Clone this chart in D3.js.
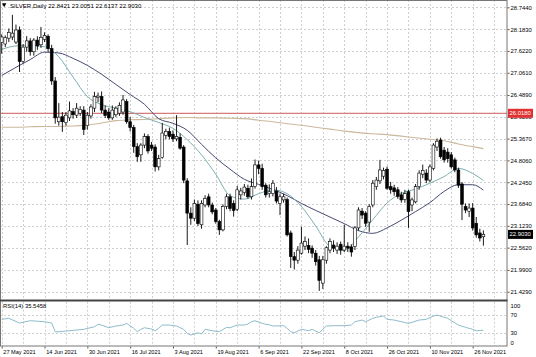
<!DOCTYPE html>
<html><head><meta charset="utf-8">
<script src="https://cdn.jsdelivr.net/npm/d3@7"></script>
<style>
html,body{margin:0;padding:0;background:#fff;}
svg{display:block;font-family:"Liberation Sans",Arial,sans-serif;}
</style>
</head><body>
<svg id="chart" width="536" height="357"></svg>
<script>
// ---------- data ----------
const symbolTitle = "SILVER,Daily";
const lastOHLC = [22.8421, 23.0051, 22.6137, 22.9030];

const opens  = [27.84,27.80,27.95,27.98,27.85,28.16,27.35,27.72,27.88,27.60,27.90,27.78,27.92,28.00,27.68,26.85,25.80,25.93,25.78,25.90,
  26.06,25.97,26.02,26.10,25.70,25.95,26.15,26.42,26.45,26.10,26.05,25.90,25.98,26.02,26.05,26.32,25.80,25.65,25.16,24.95,
  25.20,25.42,25.20,25.15,24.64,24.88,25.45,25.55,25.48,25.36,25.40,25.15,24.28,23.45,23.32,23.68,23.15,23.66,23.87,23.66,
  23.53,23.23,23.02,23.62,23.87,23.70,23.55,23.92,23.98,24.09,23.87,24.13,24.69,24.60,24.17,23.95,23.95,24.02,23.70,23.79,
  23.80,22.94,22.33,22.24,22.42,22.60,22.62,22.55,22.42,22.25,21.65,22.24,22.50,22.63,22.50,22.65,22.50,22.60,22.58,22.59,
  23.07,23.50,23.45,23.22,23.66,24.13,24.28,24.40,24.58,24.13,24.10,24.05,23.92,23.80,24.00,23.66,23.74,24.13,24.45,24.48,
  24.30,24.60,25.15,25.33,25.07,25.02,24.95,24.82,24.56,24.20,23.62,23.50,23.58,23.19,22.94,22.8421];
const highs  = [28.05,28.02,28.20,28.55,28.30,28.25,27.80,28.00,27.95,27.95,28.00,28.24,28.10,28.05,27.78,26.95,26.28,26.05,26.05,26.32,
  26.15,26.28,26.20,26.20,26.05,26.25,26.57,26.55,26.58,26.22,26.15,26.22,26.20,26.30,26.49,26.38,25.92,25.72,25.25,25.25,
  25.50,25.48,25.28,25.22,24.95,25.77,25.62,25.65,25.58,25.97,25.50,25.20,24.35,23.60,23.80,23.78,23.78,23.91,23.95,23.72,
  23.58,23.28,23.68,23.95,23.95,23.78,24.15,24.10,24.20,24.18,24.34,24.83,24.80,24.72,24.22,24.19,24.30,24.12,23.95,23.95,
  23.85,23.00,22.45,22.60,23.10,22.85,22.80,22.62,22.50,22.35,22.35,22.60,22.80,22.75,22.70,22.72,23.15,22.70,22.65,23.12,
  23.60,23.58,23.50,23.68,24.30,24.38,24.82,24.62,24.65,24.25,24.18,24.12,24.00,24.05,24.05,23.85,24.20,24.55,24.70,24.58,
  24.70,25.25,25.37,25.39,25.15,25.12,25.02,24.88,24.62,24.25,23.70,23.70,23.71,23.35,23.05,23.0051];
const lows   = [27.55,27.72,27.85,27.90,27.80,27.08,27.30,27.60,27.50,27.50,27.65,27.70,27.85,27.60,26.75,25.75,25.70,25.54,25.70,25.82,
  25.88,25.90,25.95,25.46,25.60,25.88,26.05,26.30,26.02,25.90,25.85,25.85,25.92,25.95,25.98,25.75,25.55,25.00,24.77,24.77,
  25.12,24.98,25.05,24.52,24.55,24.85,25.35,25.35,25.28,25.30,25.08,24.22,22.63,23.15,23.25,23.12,23.05,23.60,23.60,23.42,
  23.18,22.89,22.98,23.55,23.50,23.36,23.50,23.80,23.90,23.82,23.80,24.08,24.45,24.05,23.85,23.85,23.88,23.70,23.40,23.72,
  22.85,22.04,22.00,22.15,22.38,22.50,22.42,22.30,22.10,21.45,21.50,22.15,22.42,22.45,22.40,22.38,22.45,22.45,22.33,22.50,
  23.00,23.30,23.10,22.97,23.60,24.05,24.20,24.32,24.05,23.95,23.90,23.82,23.72,23.72,23.07,23.50,23.70,24.05,24.35,24.22,
  24.25,24.55,25.05,24.85,24.75,24.75,24.60,24.50,24.10,23.27,23.45,23.35,23.00,22.82,22.72,22.6137];
const closes = [27.98,27.97,28.10,28.08,28.16,27.35,27.72,27.88,27.60,27.90,27.75,27.97,28.02,27.68,26.85,25.90,25.92,25.80,25.97,26.08,
  25.98,26.15,26.12,25.60,25.97,26.18,26.45,26.46,26.10,25.96,25.90,26.10,26.15,26.22,26.36,25.80,25.65,25.16,24.90,25.20,
  25.42,25.05,25.12,24.64,24.85,25.51,25.55,25.42,25.36,25.42,25.12,24.30,23.45,23.32,23.70,23.18,23.70,23.83,23.66,23.48,
  23.23,23.02,23.62,23.87,23.57,23.52,24.05,24.02,24.12,23.87,24.13,24.69,24.60,24.13,23.92,24.00,24.22,23.76,23.87,23.87,
  22.89,22.33,22.24,22.50,22.68,22.72,22.52,22.42,22.20,21.72,22.25,22.56,22.72,22.55,22.60,22.50,22.60,22.55,22.45,23.07,
  23.53,23.40,23.19,23.62,24.22,24.30,24.56,24.55,24.09,24.05,24.00,23.88,23.79,23.95,23.49,23.79,24.13,24.48,24.55,24.30,
  24.64,25.20,25.30,24.90,24.82,24.85,24.64,24.56,24.17,23.68,23.53,23.58,23.07,22.89,22.81,22.9030];

// moving averages sampled every 4 bars
const maBars = [0,4,8,12,16,20,24,28,32,36,40,44,48,52,56,60,64,68,72,76,80,84,88,92,96,100,104,108,112,116,120,124,128,132,135];
const fastMa = [27.66,27.75,27.76,27.73,27.47,26.95,26.45,26.24,26.15,26.06,25.91,25.78,25.63,25.34,24.95,24.45,23.90,23.81,23.95,24.05,
  23.95,23.62,23.12,22.59,22.49,22.84,23.28,23.71,23.96,24.07,24.22,24.39,24.60,24.47,24.29];
const slowMa = [26.99,27.20,27.40,27.59,27.57,27.43,27.25,27.02,26.76,26.50,26.25,25.88,25.76,25.58,25.22,24.87,24.58,24.32,24.19,24.06,
  23.90,23.70,23.52,23.35,23.18,23.00,22.93,23.07,23.27,23.49,23.72,24.01,24.18,24.18,24.04];
const longMa = [25.66,25.66,25.67,25.68,25.68,25.69,25.72,25.77,25.83,25.85,25.86,25.88,25.90,25.91,25.90,25.90,25.89,25.88,25.84,25.80,
  25.75,25.71,25.66,25.61,25.56,25.52,25.49,25.47,25.43,25.39,25.35,25.31,25.23,25.16,25.11];

// RSI(14)
const rsiBars = [0,2,5,8,12,14,15,16,18,21,23,26,27,28,30,32,34,35,37,38,39,40,42,43,44,45,47,49,51,52,53,55,56,57,59,61,63,64,66,68,
  69,70,71,73,74,75,76,79,80,81,82,83,84,86,87,88,89,90,91,93,96,98,99,101,102,104,105,107,108,110,112,114,115,117,119,121,122,124,125,126,
  128,130,132,133,135];
const rsiValues = [60.2,62.5,51.9,57.1,54.8,51.9,32.2,32.2,33.8,36.0,37.6,43.5,48.9,47.3,41.2,45.1,47.3,51.2,39.9,32.2,
  37.6,41.2,38.3,34.5,39.9,47.3,47.3,45.1,37.6,28.6,24.7,29.9,27.0,37.6,34.5,32.2,42.1,41.2,47.3,47.3,
  49.6,54.8,57.1,51.2,49.0,48.0,45.1,45.8,39.9,32.2,29.9,33.8,37.6,34.5,37.6,33.8,29.9,37.6,45.1,45.8,
  45.8,47.3,54.8,58.6,54.8,62.5,64.7,67.7,60.2,58.6,54.8,51.2,53.4,58.6,60.2,67.7,69.9,64.7,62.5,57.1,
  47.3,42.1,37.6,34.5,35.5458];
const rsiLast = "35.5458";

const priceTicks = ["28.7440","28.1830","27.6220","27.0610","26.4890","25.9280","25.3670","24.8060","24.2450","23.6840","23.1230","22.5620","21.9900","21.4290"];
const rsiTicks = [100,70,30,0];
const rsiLevels = [70,30];
const dateLabels = ["27 May 2021","14 Jun 2021","30 Jun 2021","16 Jul 2021","3 Aug 2021","19 Aug 2021","6 Sep 2021","22 Sep 2021","8 Oct 2021","26 Oct 2021","10 Nov 2021","26 Nov 2021"];
const dateLabelBars = [0,12,24,36,48,60,72,84,96,108,120,132];
const hLineLevel = 26.0180;

// ---------- layout ----------
const W = 536, H = 357;
const plotRight = 507;
const mainTop = 0, mainBottom = 300;
const rsiTop = 301.7, rsiBottom = 346;

const svg = d3.select("#chart");
svg.append("rect").attr("width", W).attr("height", H).attr("fill", "#fff");

const x = d3.scaleLinear().domain([0, 135]).range([1.7, 483.4]);
const y = d3.scaleLinear().domain([21.2157, 28.9318]).range([mainBottom, mainTop]);
const yR = d3.scaleLinear().domain([0, 100]).range([rsiBottom, rsiTop]);

const fontSize = 5.9;
const dateFont = 5.6;
const titleFont = 6.1;
const gridColor = "#cfcfcf";

// clip paths
const defs = svg.append("defs");
defs.append("clipPath").attr("id", "clipMain").append("rect")
  .attr("x", 0).attr("y", mainTop).attr("width", plotRight).attr("height", mainBottom - mainTop);
defs.append("clipPath").attr("id", "clipRsi").append("rect")
  .attr("x", 0).attr("y", rsiTop).attr("width", plotRight).attr("height", rsiBottom - rsiTop);

// vertical grid (every 6 bars)
const vGrid = d3.range(0, 139, 6);
svg.append("g").selectAll("line").data(vGrid).join("line")
  .attr("x1", d => Math.round(x(d)) + 0.5).attr("x2", d => Math.round(x(d)) + 0.5)
  .attr("y1", mainTop).attr("y2", mainBottom)
  .attr("stroke", gridColor).attr("stroke-dasharray", "2,2");
svg.append("g").selectAll("line").data(vGrid).join("line")
  .attr("x1", d => Math.round(x(d)) + 0.5).attr("x2", d => Math.round(x(d)) + 0.5)
  .attr("y1", rsiTop).attr("y2", rsiBottom)
  .attr("stroke", gridColor).attr("stroke-dasharray", "2,2");

// horizontal grid
svg.append("g").selectAll("line").data(priceTicks).join("line")
  .attr("x1", 0).attr("x2", plotRight)
  .attr("y1", d => Math.round(y(+d)) + 0.5).attr("y2", d => Math.round(y(+d)) + 0.5)
  .attr("stroke", gridColor).attr("stroke-dasharray", "2,2");
svg.append("g").selectAll("line").data(rsiLevels).join("line")
  .attr("x1", 0).attr("x2", plotRight)
  .attr("y1", d => Math.round(yR(d)) + 0.5).attr("y2", d => Math.round(yR(d)) + 0.5)
  .attr("stroke", gridColor).attr("stroke-dasharray", "2,2");

// main panel content
const main = svg.append("g").attr("clip-path", "url(#clipMain)");

// horizontal red level
main.append("line").attr("x1", 0).attr("x2", plotRight)
  .attr("y1", y(hLineLevel)).attr("y2", y(hLineLevel))
  .attr("stroke", "#d77a7a").attr("stroke-width", 1.3);

// moving averages
const maLine = vals => d3.line().x((d, k) => x(maBars[k])).y(d => y(d)).curve(d3.curveMonotoneX)(vals);
main.append("path").attr("d", maLine(longMa)).attr("fill", "none").attr("stroke", "#cbb89d").attr("stroke-width", 1.1);
main.append("path").attr("d", maLine(slowMa)).attr("fill", "none").attr("stroke", "#454a72").attr("stroke-width", 1);
main.append("path").attr("d", maLine(fastMa)).attr("fill", "none").attr("stroke", "#7eaeb0").attr("stroke-width", 1);

// candles
const bars = d3.range(opens.length);
main.append("g").selectAll("line").data(bars).join("line")
  .attr("x1", i => x(i)).attr("x2", i => x(i))
  .attr("y1", i => y(highs[i])).attr("y2", i => y(lows[i]))
  .attr("stroke", "#000").attr("stroke-width", 0.9);
main.append("g").selectAll("rect").data(bars).join("rect")
  .attr("x", i => x(i) - 1.4).attr("width", 2.8)
  .attr("y", i => y(Math.max(opens[i], closes[i])))
  .attr("height", i => Math.max(0.8, Math.abs(y(opens[i]) - y(closes[i]))))
  .attr("fill", i => closes[i] >= opens[i] ? "#fff" : "#000")
  .attr("stroke", "#000").attr("stroke-width", 0.6);

// RSI line
const rsiG = svg.append("g").attr("clip-path", "url(#clipRsi)");
rsiG.append("path")
  .attr("d", d3.line().x((d, k) => x(rsiBars[k])).y(d => yR(d))(rsiValues))
  .attr("fill", "none").attr("stroke", "#8dbccb").attr("stroke-width", 1);

// frames
svg.append("rect").attr("x", 0.5).attr("y", 0.5).attr("width", plotRight - 0.5).attr("height", rsiBottom - 0.5)
  .attr("fill", "none").attr("stroke", "#777").attr("stroke-width", 1);
svg.append("line").attr("x1", 0).attr("x2", plotRight + 0.5).attr("y1", 300.5).attr("y2", 300.5)
  .attr("stroke", "#444").attr("stroke-width", 2);

// price axis
const priceAxis = d3.axisRight(y).tickValues(priceTicks.map(Number)).tickFormat((d, k) => priceTicks[k]).tickSize(2).tickPadding(1);
const pa = svg.append("g").attr("transform", `translate(${plotRight + 0.5},0)`).call(priceAxis);
pa.select(".domain").remove();
pa.selectAll("text").attr("font-size", fontSize).attr("fill", "#000").attr("font-family", "Liberation Sans, Arial, sans-serif");
pa.selectAll("line").attr("stroke", "#555");

// rsi axis labels (clamped inside the panel like the platform does)
svg.append("g").selectAll("text").data(rsiTicks).join("text")
  .attr("x", plotRight + 3.5)
  .attr("y", d => Math.min(Math.max(yR(d), rsiTop + 4.3), rsiBottom - 3.3))
  .attr("dy", "0.35em").attr("font-size", fontSize).attr("fill", "#000")
  .text(d => d);

// date axis
const dateAxis = d3.axisBottom(x).tickValues(dateLabelBars).tickFormat((d, k) => dateLabels[k]).tickSize(2).tickPadding(1.5);
const da = svg.append("g").attr("transform", `translate(0,${rsiBottom + 0.5})`).call(dateAxis);
da.select(".domain").remove();
da.selectAll("text").attr("font-size", dateFont).attr("fill", "#000").attr("text-anchor", "start").attr("dx", "0.2em")
  .attr("font-family", "Liberation Sans, Arial, sans-serif");
da.selectAll("line").attr("stroke", "#555");

// red level label
const hy = y(hLineLevel);
svg.append("rect").attr("x", plotRight + 1).attr("y", hy - 4.5).attr("width", 25).attr("height", 9).attr("fill", "#e0302f");
svg.append("text").attr("x", plotRight + 2.5).attr("y", hy).attr("dy", "0.35em").attr("font-size", fontSize)
  .attr("fill", "#fff").text(hLineLevel.toFixed(4));

// current price label
const cy = y(lastOHLC[3]);
svg.append("rect").attr("x", plotRight + 1).attr("y", cy - 4.5).attr("width", 25).attr("height", 9).attr("fill", "#000");
svg.append("text").attr("x", plotRight + 2.5).attr("y", cy).attr("dy", "0.35em").attr("font-size", fontSize)
  .attr("fill", "#fff").text(lastOHLC[3].toFixed(4));

// title
svg.append("path").attr("d", "M2,3.2 L6.4,3.2 L4.2,7.2 Z").attr("fill", "#000");
svg.append("text").attr("x", 10).attr("y", 5.5).attr("dy", "0.35em").attr("font-size", titleFont).attr("fill", "#000")
  .text(symbolTitle + " " + lastOHLC.map(v => v.toFixed(4)).join(" "));

// RSI title
svg.append("text").attr("x", 3).attr("y", rsiTop + 4).attr("dy", "0.35em").attr("font-size", fontSize).attr("fill", "#000")
  .text("RSI(14) " + rsiLast);
</script>
</body></html>
